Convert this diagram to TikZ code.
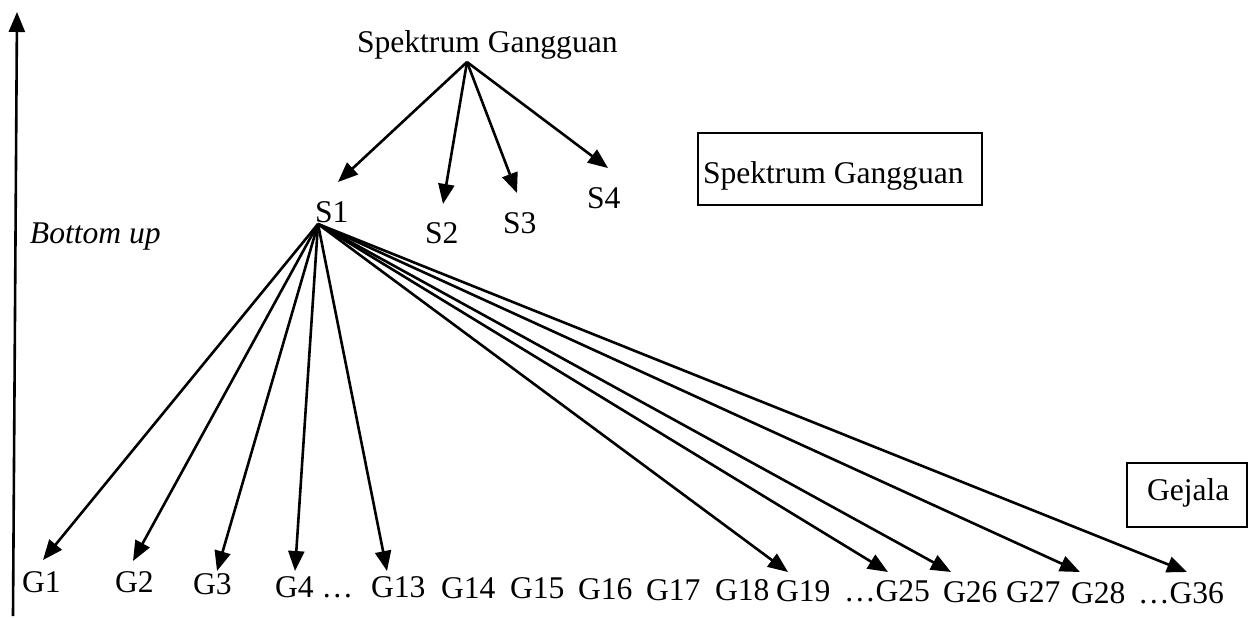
\documentclass[tikz,border=0pt]{standalone}
\usepackage{fontspec}
\setmainfont{Liberation Serif}
\usetikzlibrary{arrows.meta}
\begin{document}
\begin{tikzpicture}[x=0.5pt,y=-0.5pt,
  every node/.style={inner sep=0pt,outer sep=0pt,font=\fontsize{15.8}{18}\selectfont},
  lbl/.style={anchor=base west},
  arr/.style={line width=1.3pt,-{Triangle[length=10pt,width=8pt]}},
  boxed/.style={draw,line width=1pt}]
\useasboundingbox (0,0) rectangle (1254,617);
% axis
\coordinate (ax0) at (13,616);
\coordinate (ax1) at (17,12);
\draw[arr] (ax0) -- (ax1);
\node[lbl,font=\fontsize{15.8}{18}\selectfont\itshape] (bu) at (30,243) {Bottom up};
% top
\node[lbl] (sg) at (357,52) {Spektrum Gangguan};
\coordinate (src) at (467,62);
\node[lbl] (s1) at (315,222) {S1};
\node[lbl] (s2) at (425,243) {S2};
\node[lbl] (s3) at (503,233) {S3};
\node[lbl] (s4) at (587,208) {S4};
\coordinate (t1) at (338,182);
\coordinate (t2) at (443,204);
\coordinate (t3) at (517,193);
\coordinate (t4) at (608,168);
\foreach \t in {t1,t2,t3,t4} \draw[arr] (src) -- (\t);
% boxes
\draw[boxed] (698,133) rectangle (982,205);
\node[lbl] (box1) at (703,183) {Spektrum Gangguan};
\draw[boxed] (1127,463) rectangle (1247,527);
\node[lbl] (box2) at (1147,500) {Gejala};
% bottom labels
\node[lbl] (g1) at (22,592) {G1};
\node[lbl] (g2) at (115,592) {G2};
\node[lbl] (g3) at (193,594) {G3};
\node[lbl] (g4) at (275,597) {G4 …};
\node[lbl] (g13) at (371,597) {G13};
\node[lbl] (g14) at (441,598) {G14};
\node[lbl] (g15) at (510,598) {G15};
\node[lbl] (g16) at (578,599) {G16};
\node[lbl] (g17) at (646,600) {G17};
\node[lbl] (g18) at (715,600) {G18};
\node[lbl] (g19) at (776,601) {G19};
\node[lbl] (g25) at (844,601) {…G25};
\node[lbl] (g26) at (943,602) {G26};
\node[lbl] (g27) at (1006,602) {G27};
\node[lbl] (g28) at (1071,603) {G28};
\node[lbl] (g36) at (1138,603) {…G36};
% arrows from S1
\coordinate (s1src) at (318,224);
\coordinate (b1) at (43,560);
\coordinate (b2) at (133,561);
\coordinate (b3) at (217,571);
\coordinate (b4) at (295,571);
\coordinate (b5) at (387,571);
\coordinate (b6) at (788,572);
\coordinate (b7) at (888,572);
\coordinate (b8) at (951,572);
\coordinate (b9) at (1080,572);
\coordinate (b10) at (1187,572);
\foreach \t in {b1,b2,b3,b4,b5,b6,b7,b8,b9,b10} \draw[arr] (s1src) -- (\t);
\end{tikzpicture}
\end{document}
